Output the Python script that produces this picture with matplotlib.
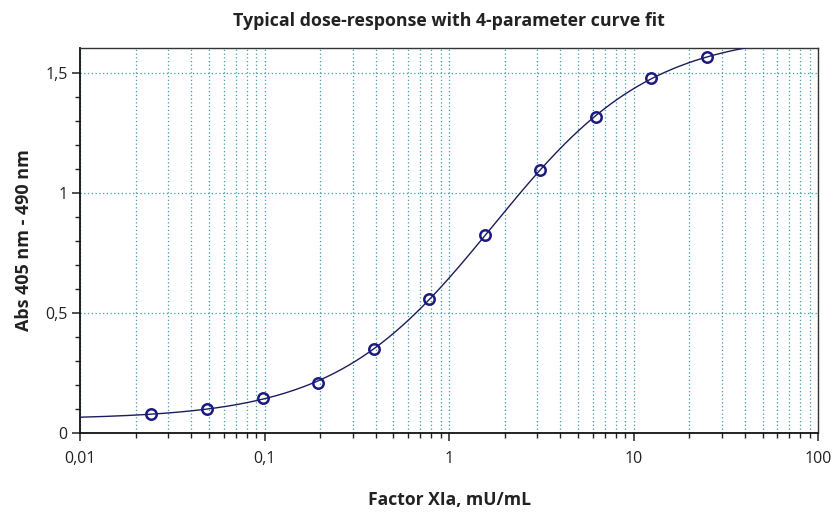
import numpy as np
import matplotlib
matplotlib.use("Agg")
import matplotlib.pyplot as plt
from matplotlib.ticker import FixedLocator, FuncFormatter, LogLocator, NullFormatter

# Dose-response data (Factor XIa, mU/mL vs Abs)
dose = [0.0244, 0.0488, 0.0977, 0.195, 0.391, 0.781, 1.5625, 3.125, 6.25, 12.5, 25.0]
absorbance = [0.079, 0.100, 0.147, 0.208, 0.350, 0.558, 0.825, 1.096, 1.317, 1.479, 1.567]

curve_start = 0.01
curve_end = 40.0

title = "Typical dose-response with 4-parameter curve fit"
xlabel = "Factor XIa, mU/mL"
ylabel = "Abs 405 nm - 490 nm"
x_ticks = [0.01, 0.1, 1, 10, 100]
x_tick_labels = ["0,01", "0,1", "1", "10", "100"]
y_ticks = [0, 0.5, 1, 1.5]
y_tick_labels = ["0", "0,5", "1", "1,5"]


def four_pl(x, p):
    a, b, c, d = p
    return d + (a - d) / (1.0 + (x / c) ** b)


# simple damped Gauss-Newton fit of the 4PL model to the points
def fit_four_pl(x, y, p0):
    x = np.asarray(x, float)
    y = np.asarray(y, float)
    p = np.array(p0, float)
    lam = 1e-3
    for _ in range(200):
        r = y - four_pl(x, p)
        J = np.zeros((len(x), len(p)))
        for k in range(len(p)):
            dp = np.zeros_like(p)
            dp[k] = 1e-6 * max(abs(p[k]), 1e-3)
            J[:, k] = (four_pl(x, p + dp) - four_pl(x, p)) / dp[k]
        A = J.T @ J
        step = np.linalg.solve(A + lam * np.diag(np.diag(A)), J.T @ r)
        p_new = p + step
        if np.sum((y - four_pl(x, p_new)) ** 2) < np.sum(r ** 2):
            p = p_new
            lam *= 0.5
        else:
            lam *= 5
    return p


params = fit_four_pl(dose, absorbance, [0.055, 1.0, 1.8, 1.7])

plt.rcParams['font.family'] = ['Open Sans', 'DejaVu Sans']

fig = plt.figure(figsize=(8.34, 5.12), dpi=100)
ax = fig.add_axes([0.0959, 0.1543, 0.885, 0.752])

xs = np.logspace(np.log10(curve_start), np.log10(curve_end), 300)
ax.plot(xs, four_pl(xs, params), color='#1c1c5c', linewidth=1.0, zorder=3)
ax.plot(dose, absorbance, linestyle='none', marker='o', markersize=7.5,
        markerfacecolor='none', markeredgecolor='#1a1a80', markeredgewidth=1.8, zorder=4)

ax.set_xscale('log')
ax.set_xlim(0.01, 100)
ax.set_ylim(0, 1.604)

ax.xaxis.set_major_locator(FixedLocator(x_ticks))
ax.xaxis.set_major_formatter(FuncFormatter(lambda v, pos: x_tick_labels[pos] if pos < len(x_tick_labels) else ""))
ax.xaxis.set_minor_locator(LogLocator(base=10, subs=np.arange(2, 10)))
ax.xaxis.set_minor_formatter(NullFormatter())

ax.yaxis.set_major_locator(FixedLocator(y_ticks))
ax.set_yticklabels(y_tick_labels)
ax.yaxis.set_minor_locator(FixedLocator(np.arange(0.1, 1.6, 0.1)))

ax.grid(True, which='both', axis='x', color='#3f9fa8', linestyle=(0, (1, 2)), linewidth=0.9)
ax.grid(True, which='major', axis='y', color='#3f9fa8', linestyle=(0, (1, 2)), linewidth=0.9)
ax.set_axisbelow(True)

for side in ['left', 'bottom']:
    ax.spines[side].set_linewidth(1.3)
    ax.spines[side].set_color('#111111')
for side in ['top', 'right']:
    ax.spines[side].set_linewidth(1.0)
    ax.spines[side].set_color('#333333')

ax.tick_params(which='major', direction='out', length=6, width=1.1, labelsize=11.5, colors='#222222')
ax.tick_params(which='minor', direction='out', length=3.5, width=1.0, colors='#222222')
ax.tick_params(axis='x', which='major', pad=7)
ax.tick_params(axis='y', which='major', pad=3)

ax.set_title(title, fontsize=12.8, fontweight='bold', color='#222222', pad=16)
ax.set_xlabel(xlabel, fontsize=12.6, fontweight='bold', color='#222222', labelpad=17)
ax.set_ylabel(ylabel, fontsize=13, fontweight='bold', color='#222222', labelpad=9)

fig.savefig('out.png', dpi=100, facecolor='white')
